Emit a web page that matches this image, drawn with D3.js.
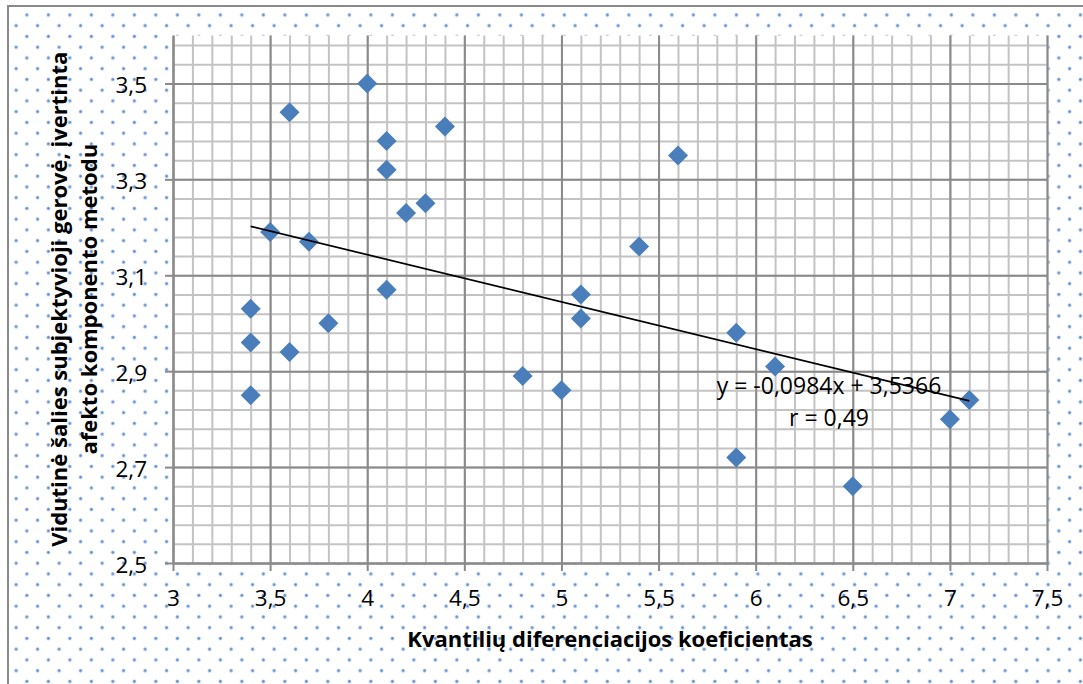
<!DOCTYPE html>
<html>
<head>
<meta charset="utf-8">
<script src="https://cdn.jsdelivr.net/npm/d3@7"></script>
<style>
  html, body { margin: 0; padding: 0; background: #fff; }
  svg { display: block; }
  text { font-family: "Open Sans", "Noto Sans", sans-serif; fill: #000; }
</style>
</head>
<body>
<svg id="chart" width="1083" height="684"></svg>
<script>
// ---- data ----
const xValues = [4.0, 3.6, 4.1, 4.4, 4.1, 4.2, 4.3, 5.6, 3.5, 3.7, 5.4, 4.1, 3.4, 3.8, 5.1, 5.1, 3.4, 3.6, 5.9, 6.1, 3.4, 4.8, 5.0, 7.1, 7.0, 5.9, 6.5];
const yValues = [3.50, 3.44, 3.38, 3.41, 3.32, 3.23, 3.25, 3.35, 3.19, 3.17, 3.16, 3.07, 3.03, 3.00, 3.06, 3.01, 2.96, 2.94, 2.98, 2.91, 2.85, 2.89, 2.86, 2.84, 2.80, 2.72, 2.66];
const trendCoefficients = [-0.0984, 3.5366]; // slope, intercept
const xTickValues = [3, 3.5, 4, 4.5, 5, 5.5, 6, 6.5, 7, 7.5];
const xTickLabels = ["3", "3,5", "4", "4,5", "5", "5,5", "6", "6,5", "7", "7,5"];
const yTickValues = [2.5, 2.7, 2.9, 3.1, 3.3, 3.5];
const yTickLabels = ["2,5", "2,7", "2,9", "3,1", "3,3", "3,5"];
const xDomain = [3, 7.5];
const yDomain = [2.5, 3.6];
const xMinorStep = 0.1;
const yMinorStep = 0.04;
const xTitle = "Kvantilių diferenciacijos koeficientas";
const yTitleLines = ["Vidutinė šalies subjektyvioji gerovė, įvertinta", "afekto komponento metodu"];
const equationLines = ["y = -0,0984x + 3,5366", "r = 0,49"];

// ---- layout ----
const W = 1083, H = 684;
const plot = { left: 173, right: 1047, top: 35.5, bottom: 563 };

const svg = d3.select("#chart");

// dotted background pattern
const defs = svg.append("defs");
const pat = defs.append("pattern")
  .attr("id", "dots")
  .attr("patternUnits", "userSpaceOnUse")
  .attr("x", 0).attr("y", 9.6)
  .attr("width", 21.5).attr("height", 21.5);
pat.append("circle").attr("cx", 5.35).attr("cy", 5.35).attr("r", 1.9).attr("fill", "#aec6ea");
pat.append("circle").attr("cx", 5.35).attr("cy", 5.35).attr("r", 1.1).attr("fill", "#4f81c9");
pat.append("circle").attr("cx", 16.1).attr("cy", 16.1).attr("r", 1.9).attr("fill", "#aec6ea");
pat.append("circle").attr("cx", 16.1).attr("cy", 16.1).attr("r", 1.1).attr("fill", "#4f81c9");

svg.append("rect").attr("x", 0).attr("y", 0).attr("width", W).attr("height", H).attr("fill", "#fff");
svg.append("rect").attr("x", 8).attr("y", 6).attr("width", W + 20).attr("height", H + 20)
  .attr("fill", "url(#dots)").attr("stroke", "#8a8a8a").attr("stroke-width", 2);

// scales
const x = d3.scaleLinear().domain(xDomain).range([plot.left, plot.right]);
const y = d3.scaleLinear().domain(yDomain).range([plot.bottom, plot.top]);

// plot area background
svg.append("rect")
  .attr("x", plot.left).attr("y", plot.top)
  .attr("width", plot.right - plot.left).attr("height", plot.bottom - plot.top)
  .attr("fill", "#fff");

// minor gridlines
const xMinor = d3.range(Math.round((xDomain[1] - xDomain[0]) / xMinorStep) + 1).map(i => +(xDomain[0] + i * xMinorStep).toFixed(4));
const yMinorCount = Math.floor((yDomain[1] - yDomain[0]) / yMinorStep + 1e-9);
const yMinor = d3.range(yMinorCount + 1).map(i => +(yDomain[0] + i * yMinorStep).toFixed(4));

const gMinorX = svg.append("g").attr("transform", `translate(0,${plot.bottom})`)
  .call(d3.axisBottom(x).tickValues(xMinor).tickSize(-(plot.bottom - plot.top)).tickFormat(""));
const gMinorY = svg.append("g").attr("transform", `translate(${plot.left},0)`)
  .call(d3.axisLeft(y).tickValues(yMinor).tickSize(-(plot.right - plot.left)).tickFormat(""));
[gMinorX, gMinorY].forEach(g => {
  g.select(".domain").remove();
  g.selectAll("line").attr("stroke", "#c3c3c3").attr("stroke-width", 2);
});

// major gridlines
const gMajorX = svg.append("g").attr("transform", `translate(0,${plot.bottom})`)
  .call(d3.axisBottom(x).tickValues(xTickValues).tickSize(-(plot.bottom - plot.top)).tickFormat(""));
const gMajorY = svg.append("g").attr("transform", `translate(${plot.left},0)`)
  .call(d3.axisLeft(y).tickValues(yTickValues).tickSize(-(plot.right - plot.left)).tickFormat(""));
[gMajorX, gMajorY].forEach(g => {
  g.select(".domain").remove();
  g.selectAll("line").attr("stroke", "#8a8a8a").attr("stroke-width", 2);
});

// axes with tick marks and labels
const xAxis = svg.append("g").attr("transform", `translate(0,${plot.bottom})`)
  .call(d3.axisBottom(x).tickValues(xTickValues).tickSize(8).tickSizeOuter(0)
    .tickFormat((d, i) => xTickLabels[i]));
xAxis.select(".domain").attr("stroke", "#8a8a8a").attr("stroke-width", 2);
xAxis.selectAll(".tick line").attr("stroke", "#8a8a8a").attr("stroke-width", 2);
xAxis.selectAll(".tick text")
  .attr("y", 43).attr("dy", 0)
  .style("font-size", "22.5px").style("font-family", "'Open Sans', sans-serif").attr("fill", "#000");

const yAxis = svg.append("g").attr("transform", `translate(${plot.left},0)`)
  .call(d3.axisLeft(y).tickValues(yTickValues).tickSize(8).tickSizeOuter(0)
    .tickFormat((d, i) => yTickLabels[i]));
yAxis.select(".domain").attr("stroke", "#8a8a8a").attr("stroke-width", 2);
yAxis.selectAll(".tick line").attr("stroke", "#8a8a8a").attr("stroke-width", 2);
yAxis.selectAll(".tick text")
  .attr("x", -26).attr("dy", 0).attr("y", 9)
  .style("font-size", "22.5px").style("font-family", "'Open Sans', sans-serif").attr("fill", "#000");

// markers (diamonds)
const points = xValues.map((v, i) => ({ x: v, y: yValues[i] }));
const half = 10;
svg.append("g").selectAll("path.pt")
  .data(points).join("path")
  .attr("class", "pt")
  .attr("d", d => {
    const cx = x(d.x), cy = y(d.y);
    return `M${cx},${cy - half}L${cx + half},${cy}L${cx},${cy + half}L${cx - half},${cy}Z`;
  })
  .attr("fill", "#4a7ebb");

// trendline
const xMin = d3.min(xValues), xMax = d3.max(xValues);
const trend = [xMin, xMax].map(v => ({ x: v, y: trendCoefficients[0] * v + trendCoefficients[1] }));
svg.append("path")
  .datum(trend)
  .attr("d", d3.line().x(d => x(d.x)).y(d => y(d.y)))
  .attr("stroke", "#000").attr("stroke-width", 1.7).attr("fill", "none");

// equation label
svg.append("text")
  .attr("x", 829).attr("y", 394)
  .attr("text-anchor", "middle")
  .style("font-size", "23px")
  .text(equationLines[0]);
svg.append("text")
  .attr("x", 829).attr("y", 426)
  .attr("text-anchor", "middle")
  .style("font-size", "23px")
  .text(equationLines[1]);

// x title
svg.append("text")
  .attr("x", (plot.left + plot.right) / 2).attr("y", 647)
  .attr("text-anchor", "middle")
  .style("font-size", "22px").style("font-weight", "bold")
  .text(xTitle);

// y title (two lines, rotated)
const cy = (plot.top + plot.bottom) / 2;
const yTitle = svg.append("text")
  .attr("transform", `translate(67,${cy}) rotate(-90)`)
  .attr("text-anchor", "middle")
  .style("font-size", "22px").style("font-weight", "bold");
yTitle.append("tspan").attr("x", 0).attr("y", 0).text(yTitleLines[0]);
yTitle.append("tspan").attr("x", 0).attr("y", 30).text(yTitleLines[1]);
</script>
</body>
</html>
